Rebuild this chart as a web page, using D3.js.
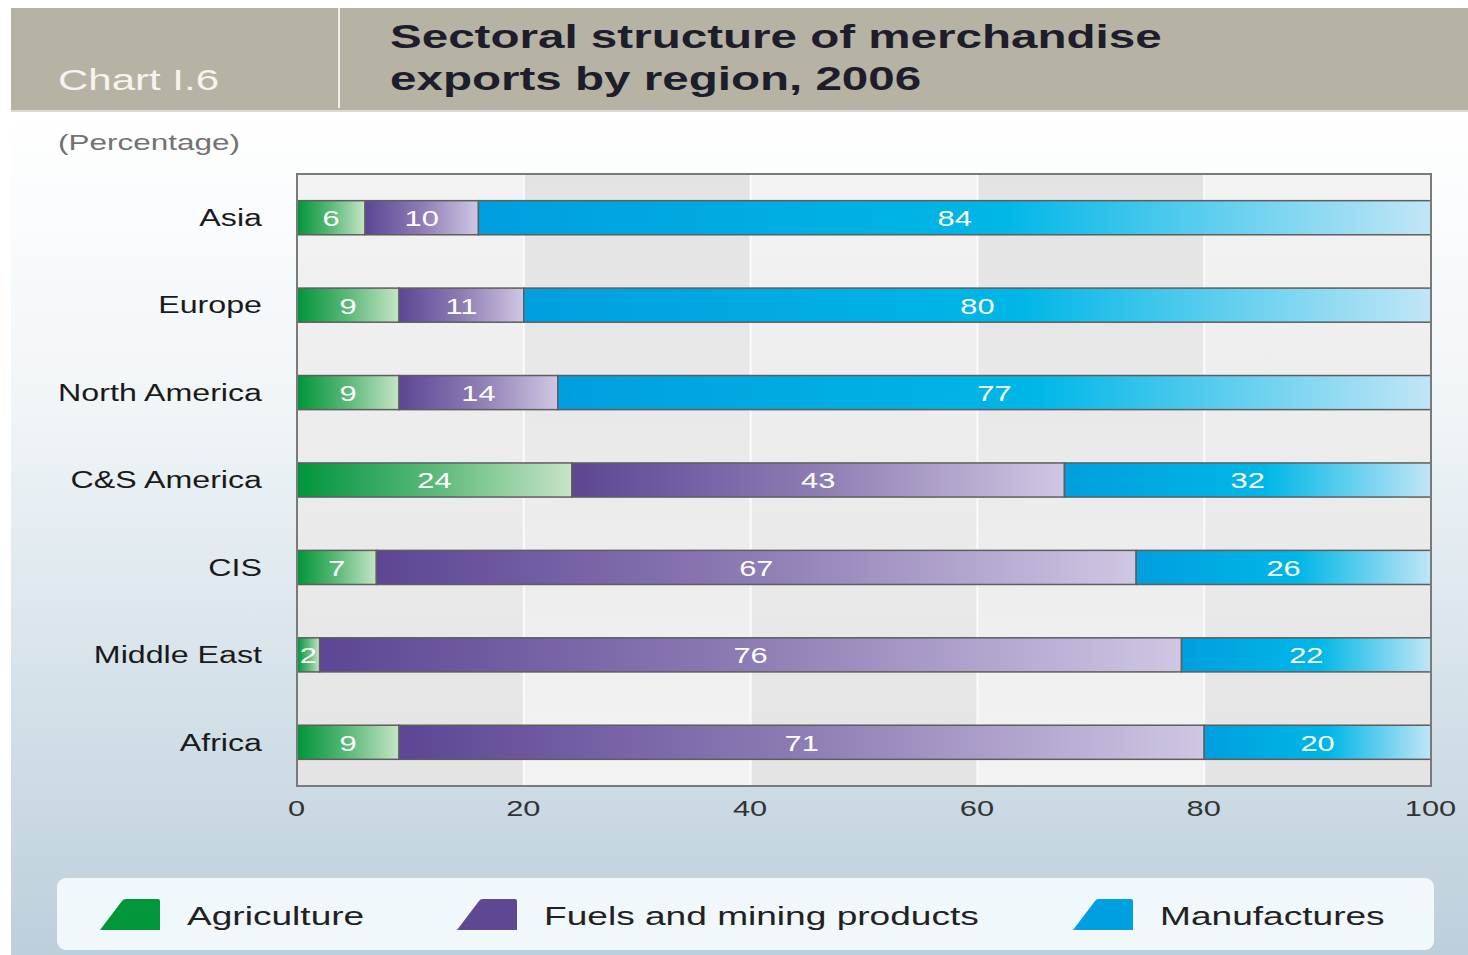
<!DOCTYPE html>
<html lang="en">
<head>
  <meta charset="UTF-8" />
  <title>Sectoral structure of merchandise exports by region, 2006</title>
  <style>
    body {
      margin: 0;
      background: #fff;
      overflow: hidden;
    }
    svg {
      display: block;
      font-family: 'Liberation Sans', Arial, sans-serif;
    }
  </style>
</head>
<body>
  <svg id="chart" width="1468" height="955"></svg>

  <script src="https://d3js.org/d3.v7.min.js"></script>
  <script>
    // chart data (percent of each region's merchandise exports)
    const regions = ["Asia", "Europe", "North America", "C&S America", "CIS", "Middle East", "Africa"];
    const sectors = ["Agriculture", "Fuels and mining products", "Manufactures"];
    const agriculture  = [6, 9, 9, 24, 7, 2, 9];
    const fuels        = [10, 11, 14, 43, 67, 76, 71];
    const manufactures = [84, 80, 77, 32, 26, 22, 20];
    const xTicks = [0, 20, 40, 60, 80, 100];

    const svg = d3.select("#chart");
    const W = +svg.attr("width"), H = +svg.attr("height");

    // the original artwork is wide-set, so text gets stretched sideways
    const SX = 1.4;
    function addText(parent, x, y, str, size, opts = {}) {
      return parent.append("text")
        .attr("transform", `translate(${x},${y}) scale(${opts.sx || SX},1)`)
        .attr("text-anchor", opts.anchor || "start")
        .attr("dy", opts.dy || "0")
        .attr("font-size", size)
        .attr("font-weight", opts.weight || "normal")
        .attr("fill", opts.fill || "#222")
        .text(str);
    }

    const defs = svg.append("defs");

    // page background
    const bg = defs.append("linearGradient").attr("id", "pageBg")
      .attr("x1", 0).attr("y1", 0).attr("x2", 0).attr("y2", 1);
    bg.append("stop").attr("offset", "0%").attr("stop-color", "#ffffff");
    bg.append("stop").attr("offset", "35%").attr("stop-color", "#f0f5f8");
    bg.append("stop").attr("offset", "100%").attr("stop-color", "#bccfdb");
    svg.append("rect").attr("x", 11).attr("y", 112).attr("width", W - 11).attr("height", H - 112)
      .attr("fill", "url(#pageBg)");

    // header band
    svg.append("rect").attr("x", 11).attr("y", 8).attr("width", W - 11).attr("height", 102)
      .attr("fill", "#b6b3a4");
    svg.append("line").attr("x1", 11).attr("x2", W).attr("y1", 111).attr("y2", 111)
      .attr("stroke", "#dcdcd6").attr("stroke-width", 2);
    svg.append("line").attr("x1", 339).attr("x2", 339).attr("y1", 8).attr("y2", 108)
      .attr("stroke", "#f2f0ea").attr("stroke-width", 2);
    addText(svg, 58, 90, "Chart I.6", 30, { fill: "#f6f4ee" });
    addText(svg, 390, 48, "Sectoral structure of merchandise", 33.5, { weight: "bold", fill: "#1d1d2b", sx: 1.42 });
    addText(svg, 390, 90, "exports by region, 2006", 33.5, { weight: "bold", fill: "#1d1d2b", sx: 1.42 });
    addText(svg, 58, 150, "(Percentage)", 22.5, { fill: "#727272" });

    // plot area
    const plot = { left: 297, right: 1431, top: 174, bottom: 786 };

    const x = d3.scaleLinear().domain([0, 100]).range([plot.left, plot.right]);
    const y = d3.scaleBand().domain(regions).range([plot.top, plot.bottom])
      .paddingInner(0.61).paddingOuter(0.305);

    // alternating column shading, light/dark swap top to bottom
    const colA = defs.append("linearGradient").attr("id", "colA")
      .attr("x1", 0).attr("y1", 0).attr("x2", 0).attr("y2", 1);
    colA.append("stop").attr("offset", "0%").attr("stop-color", "#f3f3f3");
    colA.append("stop").attr("offset", "100%").attr("stop-color", "#e4e4e4");
    const colB = defs.append("linearGradient").attr("id", "colB")
      .attr("x1", 0).attr("y1", 0).attr("x2", 0).attr("y2", 1);
    colB.append("stop").attr("offset", "0%").attr("stop-color", "#e3e3e3");
    colB.append("stop").attr("offset", "100%").attr("stop-color", "#f3f3f3");

    const cols = d3.pairs(xTicks);
    svg.append("g").selectAll("rect").data(cols).join("rect")
      .attr("x", d => x(d[0]))
      .attr("y", plot.top)
      .attr("width", d => x(d[1]) - x(d[0]))
      .attr("height", plot.bottom - plot.top)
      .attr("fill", (d, i) => i % 2 ? "url(#colB)" : "url(#colA)");
    svg.append("g").selectAll("line").data(xTicks.slice(1, -1)).join("line")
      .attr("x1", d => x(d)).attr("x2", d => x(d))
      .attr("y1", plot.top).attr("y2", plot.bottom)
      .attr("stroke", "#fbfbfb").attr("stroke-width", 2);

    // segment gradients (per segment, left to right)
    const gradStops = [
      [["0%", "#00953a"], ["50%", "#5cb979"], ["100%", "#c6e5c7"]],
      [["0%", "#5c4695"], ["50%", "#8e7cb4"], ["100%", "#d0c7e3"]],
      [["0%", "#009fdf"], ["55%", "#00b7e7"], ["100%", "#c1e6f6"]]
    ];
    gradStops.forEach((stops, i) => {
      const g = defs.append("linearGradient").attr("id", "seg" + i)
        .attr("x1", 0).attr("y1", 0).attr("x2", 1).attr("y2", 0);
      stops.forEach(s => g.append("stop").attr("offset", s[0]).attr("stop-color", s[1]));
    });

    // stacked, normalised to 100 per region
    const rows = regions.map((r, i) => ({
      region: r,
      [sectors[0]]: agriculture[i],
      [sectors[1]]: fuels[i],
      [sectors[2]]: manufactures[i]
    }));
    const series = d3.stack().keys(sectors).offset(d3.stackOffsetExpand)(rows);

    const layers = svg.append("g").selectAll("g").data(series).join("g")
      .attr("fill", (d, i) => `url(#seg${i})`);

    layers.selectAll("rect").data(d => d).join("rect")
      .attr("x", d => x(d[0] * 100))
      .attr("y", d => y(d.data.region))
      .attr("width", d => x(d[1] * 100) - x(d[0] * 100))
      .attr("height", y.bandwidth())
      .attr("stroke", "#5e5e5e")
      .attr("stroke-width", 1.5);

    // value labels in the middle of each segment
    series.forEach(s => {
      s.forEach(d => {
        addText(svg, x((d[0] + d[1]) * 50), y(d.data.region) + y.bandwidth() / 2,
          d.data[s.key], 22, { anchor: "middle", dy: "0.38em", fill: "#ffffff" });
      });
    });

    // frame
    svg.append("rect")
      .attr("x", plot.left).attr("y", plot.top)
      .attr("width", plot.right - plot.left).attr("height", plot.bottom - plot.top)
      .attr("fill", "none").attr("stroke", "#7a7a7a").attr("stroke-width", 2);

    // region labels
    const yAxis = svg.append("g")
      .attr("transform", `translate(${plot.left},0)`)
      .call(d3.axisLeft(y).tickSize(0));
    yAxis.select(".domain").remove();
    yAxis.selectAll("text")
      .attr("x", 0).attr("dy", "0.36em")
      .attr("transform", `translate(-35,0) scale(${SX},1)`)
      .attr("font-family", null)
      .attr("font-size", 23)
      .attr("fill", "#1a1a1a");

    // x axis ticks
    const xAxis = svg.append("g")
      .attr("transform", `translate(-1,${plot.bottom})`)
      .call(d3.axisBottom(x).tickValues(xTicks).tickSize(0).tickPadding(14));
    xAxis.select(".domain").remove();
    xAxis.selectAll("text")
      .attr("transform", `scale(${SX},1)`)
      .attr("font-family", null)
      .attr("font-size", 22)
      .attr("fill", "#333");

    // legend
    svg.append("rect").attr("x", 57).attr("y", 878).attr("width", 1377).attr("height", 72)
      .attr("rx", 9).attr("fill", "#f1f8fc");
    const swatchColors = ["#009639", "#5e4894", "#009fe0"];
    const legendX = [98, 455, 1071];
    const legend = svg.append("g").selectAll("g").data(sectors).join("g")
      .attr("transform", (d, i) => `translate(${legendX[i]},899)`);
    legend.append("path")
      .attr("d", "M2,31 L24,2 Q25,0 28,0 L60,0 Q62,0 62,2 L62,31 Z")
      .attr("fill", (d, i) => swatchColors[i]);
    legend.each(function (d) {
      addText(d3.select(this), 89, 16, d, 26.5, { dy: "0.36em", fill: "#222" });
    });
  </script>
</body>
</html>
